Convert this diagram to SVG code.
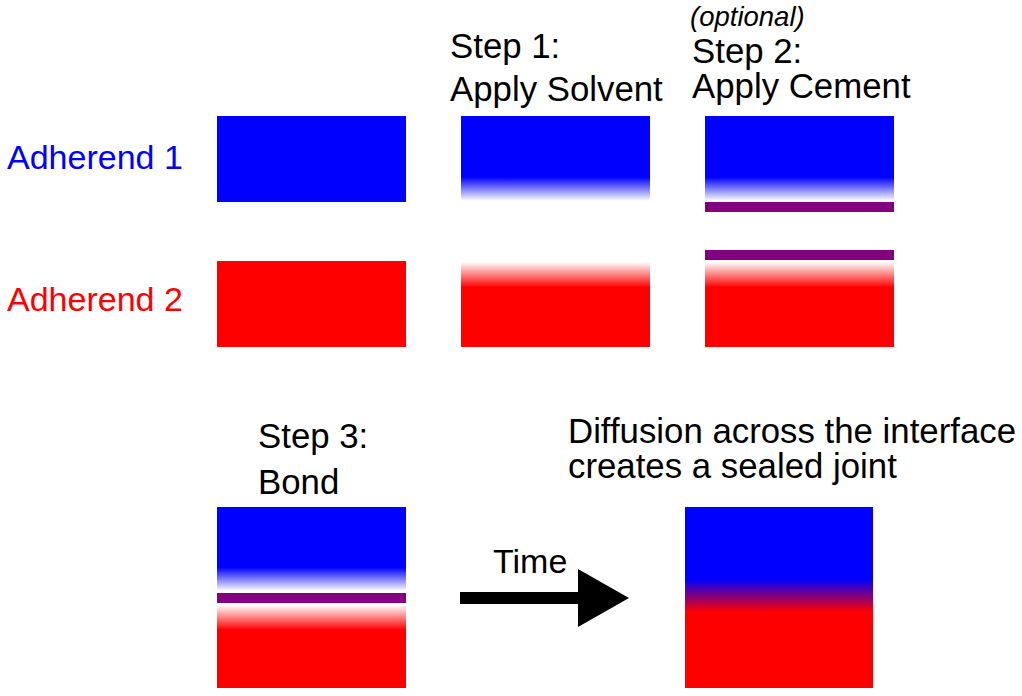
<svg xmlns="http://www.w3.org/2000/svg" width="1022" height="696" viewBox="0 0 1022 696">
<defs>
<linearGradient id="blueFade" x1="0" y1="0" x2="0" y2="1">
<stop offset="0" stop-color="#0000ff"/><stop offset="0.72" stop-color="#0000ff"/><stop offset="1" stop-color="#ffffff"/>
</linearGradient>
<linearGradient id="redFade" x1="0" y1="0" x2="0" y2="1">
<stop offset="0" stop-color="#ffffff"/><stop offset="0.3" stop-color="#ff0000"/><stop offset="1" stop-color="#ff0000"/>
</linearGradient>
<linearGradient id="mix" x1="0" y1="0" x2="0" y2="1">
<stop offset="0" stop-color="#0000ff"/><stop offset="0.4" stop-color="#0000ff"/><stop offset="0.49" stop-color="#800080"/><stop offset="0.58" stop-color="#ff0000"/><stop offset="1" stop-color="#ff0000"/>
</linearGradient>
</defs>
<style>
text{font-family:"Liberation Sans",Arial,sans-serif;font-size:34px;fill:#000}
.big{font-size:34.8px}
.it{font-style:italic;font-size:27.5px}
.cem{fill:#800080}
</style>
<rect width="1022" height="696" fill="#ffffff"/>
<g id="labels">
<text x="7" y="169" style="fill:#0000ff">Adherend 1</text>
<text x="7" y="311" style="fill:#ff0000">Adherend 2</text>
</g>
<g id="original">
<rect x="217" y="116" width="189" height="86" fill="#0000ff"/>
<rect x="217" y="261" width="189" height="86" fill="#ff0000"/>
</g>
<g id="step1">
<text class="big" x="450" y="58">Step 1:</text>
<text class="big" x="450" y="101">Apply Solvent</text>
<rect x="461" y="116" width="189" height="85" fill="url(#blueFade)"/>
<rect x="461" y="262" width="189" height="85" fill="url(#redFade)"/>
</g>
<g id="step2">
<text class="it" x="690" y="26">(optional)</text>
<text class="big" x="692" y="63">Step 2:</text>
<text class="big" x="692" y="98">Apply Cement</text>
<rect x="705" y="116" width="189" height="85" fill="url(#blueFade)"/>
<rect class="cem" x="705" y="202" width="189" height="10"/>
<rect class="cem" x="705" y="250" width="189" height="10"/>
<rect x="705" y="262" width="189" height="85" fill="url(#redFade)"/>
</g>
<g id="step3">
<text class="big" x="258" y="448">Step 3:</text>
<text class="big" x="258" y="494">Bond</text>
<rect x="217" y="507" width="189" height="84" fill="url(#blueFade)"/>
<rect class="cem" x="217" y="593" width="189" height="10"/>
<rect x="217" y="605" width="189" height="83" fill="url(#redFade)"/>
</g>
<g id="connectors">
<text x="493" y="573">Time</text>
<rect x="460" y="592" width="120" height="12" fill="#000"/>
<polygon points="578,569 629,598 578,627" fill="#000"/>
</g>
<g id="result">
<text class="big" x="568" y="443">Diffusion across the interface</text>
<text class="big" x="568" y="478">creates a sealed joint</text>
<rect x="685" y="507" width="188" height="181" fill="url(#mix)"/>
</g>
</svg>
